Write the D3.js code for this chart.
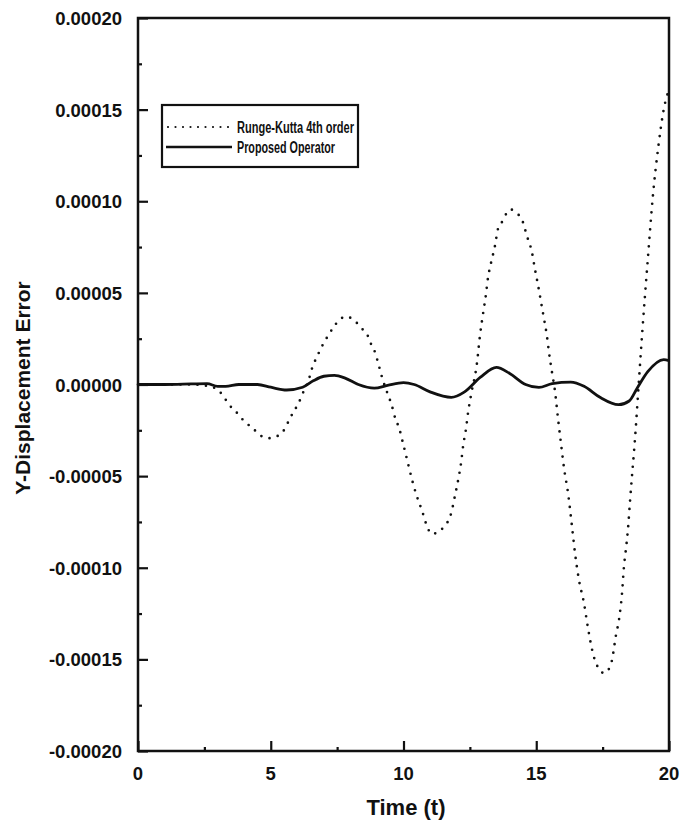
<!DOCTYPE html>
<html>
<head>
<meta charset="utf-8">
<script src="https://cdn.jsdelivr.net/npm/d3@7"></script>
<style>
  body { margin: 0; background: #fff; }
  svg text { font-family: "Liberation Sans", Arial, sans-serif; font-weight: bold; fill: #111; }
</style>
</head>
<body>
<svg id="chart" width="685" height="828"></svg>
<script>
// values, y in units of 1e-6
const rkTime = [0, 1, 2, 2.5, 2.9, 3.2, 3.4, 3.7, 4.0, 4.33, 4.63, 4.93, 5.27, 5.54, 5.72, 5.9, 6.06, 6.2, 6.44, 6.55, 6.67, 6.8, 6.97, 7.15, 7.4, 7.6, 7.85, 8.1, 8.4, 8.66, 8.78, 8.93, 9.04, 9.19, 9.4, 9.55, 9.7, 9.83, 9.98, 10.47, 10.7, 10.92, 11.05, 11.25, 11.5, 11.8, 11.94, 12.06, 12.17, 12.25, 12.35, 12.43, 12.54, 12.77, 12.88, 13.0, 13.1, 13.18, 13.3, 13.45, 13.56, 13.75, 13.9, 14.05, 14.2, 14.46, 14.65, 14.84, 14.95, 15.07, 15.18, 15.29, 15.4, 15.48, 15.6, 15.7, 15.82, 15.93, 16.05, 16.2, 16.35, 16.46, 16.6, 16.8, 16.95, 17.14, 17.4, 17.55, 17.7, 17.85, 18.0, 18.12, 18.23, 18.3, 18.4, 18.46, 18.53, 18.6, 18.68, 18.75, 18.83, 19.0, 19.2, 19.4, 19.6, 19.8, 20];
const rkError = [0, 0, 0, -0.5, -2, -6, -10.5, -15, -20, -24, -28, -29.3, -28, -24, -18.5, -14, -9.8, -5, 3, 8.6, 13, 17, 22, 26.4, 32, 35.5, 37, 35.5, 31, 26.4, 22, 17.5, 12, 4, -5, -11, -19, -23.5, -32, -59.5, -69, -78.6, -81.5, -81, -78, -70, -60.6, -52, -42.6, -33, -24.6, -15.5, -6, 12, 26.7, 39, 48.6, 58, 66.6, 76, 85, 89.5, 94, 95.5, 94, 90, 81, 72, 63, 54, 45, 36, 26.7, 17.5, 6, -3, -18.6, -32, -46, -59.5, -78, -92, -106, -119.5, -133, -147, -156, -157.5, -156, -150.6, -137, -128, -114, -100, -87, -78, -64, -51, -37, -23.5, -6, 30, 68, 104, 130, 150, 161];

const opTime = [0, 1, 2, 2.6, 3.0, 3.3, 3.8, 4.5, 5.0, 5.6, 6.2, 6.6, 7.0, 7.4, 7.8, 8.3, 8.9, 9.4, 10.0, 10.4, 11.0, 11.8, 12.3, 12.9, 13.5, 14.0, 14.6, 15.1, 15.6, 16.3, 16.8, 17.4, 18.1, 18.5, 18.8, 19.2, 19.8, 20];
const opError = [0, 0, 0.3, 0.5, -1, -1, 0, 0, -1.5, -3, -1.5, 2, 4.5, 5, 3.5, 0, -2, -0.5, 1, 0, -4, -7, -4, 4, 9.3, 6, 0, -1.6, 0.5, 1.3, -1, -7, -11, -9, -2, 7, 13.6, 13];

const xTicks = [0, 5, 10, 15, 20];
const xMinor = [2.5, 7.5, 12.5, 17.5];
const yTicks = [0.0002, 0.00015, 0.0001, 0.00005, 0, -0.00005, -0.0001, -0.00015, -0.0002];
const yMinor = [0.000175, 0.000125, 0.000075, 0.000025, -0.000025, -0.000075, -0.000125, -0.000175];
const legendLabels = ["Runge-Kutta 4th order", "Proposed Operator"];

const svg = d3.select("#chart");
const plotL = 138, plotR = 669, plotT = 18, plotB = 751;

const x = d3.scaleLinear().domain([0, 20]).range([plotL, plotR]);
const y = d3.scaleLinear().domain([-0.0002, 0.0002]).range([plotB, plotT]);

const toPts = (ts, vs) => ts.map((t, i) => [t, vs[i] * 1e-6]);

const line = d3.line()
  .x(d => x(d[0]))
  .y(d => y(d[1]))
  .curve(d3.curveMonotoneX);

// curves
svg.append("path")
  .attr("d", line(toPts(opTime, opError)))
  .attr("fill", "none")
  .attr("stroke", "#111")
  .attr("stroke-width", 2.8);

svg.append("path")
  .attr("d", line(toPts(rkTime, rkError)))
  .attr("fill", "none")
  .attr("stroke", "#111")
  .attr("stroke-width", 2.7)
  .attr("stroke-linecap", "round")
  .attr("stroke-dasharray", "0 8.5");

// frame
svg.append("rect")
  .attr("x", plotL).attr("y", plotT)
  .attr("width", plotR - plotL).attr("height", plotB - plotT)
  .attr("fill", "none").attr("stroke", "#111").attr("stroke-width", 2.5);

// y axis, ticks pointing in
const yAxis = svg.append("g")
  .attr("transform", `translate(${plotL},0)`)
  .call(d3.axisRight(y).tickValues(yTicks).tickSize(10).tickFormat(""));
yAxis.select(".domain").remove();
yAxis.selectAll("line").attr("stroke", "#111").attr("stroke-width", 2.2);

const yAxisMinor = svg.append("g")
  .attr("transform", `translate(${plotL},0)`)
  .call(d3.axisRight(y).tickValues(yMinor).tickSize(4).tickFormat(""));
yAxisMinor.select(".domain").remove();
yAxisMinor.selectAll("line").attr("stroke", "#111").attr("stroke-width", 2.2);

svg.append("g").selectAll("text")
  .data(yTicks)
  .enter().append("text")
  .attr("x", 122)
  .attr("y", d => y(d) + 7)
  .attr("text-anchor", "end")
  .attr("font-size", 18.5)
  .text(d => d3.format(".5f")(d).replace("−", "-"));

// x axis
const xAxis = svg.append("g")
  .attr("transform", `translate(0,${plotB})`)
  .call(d3.axisTop(x).tickValues(xTicks).tickSize(10).tickFormat(""));
xAxis.select(".domain").remove();
xAxis.selectAll("line").attr("stroke", "#111").attr("stroke-width", 2.2);

const xAxisMinor = svg.append("g")
  .attr("transform", `translate(0,${plotB})`)
  .call(d3.axisTop(x).tickValues(xMinor).tickSize(4).tickFormat(""));
xAxisMinor.select(".domain").remove();
xAxisMinor.selectAll("line").attr("stroke", "#111").attr("stroke-width", 2.2);

svg.append("g").selectAll("text")
  .data(xTicks)
  .enter().append("text")
  .attr("x", d => x(d))
  .attr("y", 780)
  .attr("text-anchor", "middle")
  .attr("font-size", 18.5)
  .text(d => d);

// axis titles
svg.append("text")
  .attr("x", 406).attr("y", 815)
  .attr("text-anchor", "middle")
  .attr("font-size", 22)
  .text("Time (t)");

svg.append("text")
  .attr("transform", "translate(30,388) rotate(-90)")
  .attr("text-anchor", "middle")
  .attr("font-size", 21)
  .text("Y-Displacement Error");

// legend
const legend = svg.append("g");
legend.append("rect")
  .attr("x", 162).attr("y", 105)
  .attr("width", 196).attr("height", 62)
  .attr("fill", "#fff").attr("stroke", "#111").attr("stroke-width", 2.2);

legend.append("line")
  .attr("x1", 168).attr("x2", 231).attr("y1", 127).attr("y2", 127)
  .attr("stroke", "#111").attr("stroke-width", 2.2)
  .attr("stroke-linecap", "round").attr("stroke-dasharray", "0 7.5");
legend.append("line")
  .attr("x1", 166).attr("x2", 232).attr("y1", 147).attr("y2", 147)
  .attr("stroke", "#111").attr("stroke-width", 2.6);

legend.selectAll("text.lab")
  .data(legendLabels)
  .enter().append("text")
  .attr("class", "lab")
  .attr("x", 237)
  .attr("y", (d, i) => 132.5 + i * 20)
  .attr("font-size", 16)
  .attr("textLength", (d, i) => i === 0 ? 117 : 98)
  .attr("lengthAdjust", "spacingAndGlyphs")
  .text(d => d);
</script>
</body>
</html>
